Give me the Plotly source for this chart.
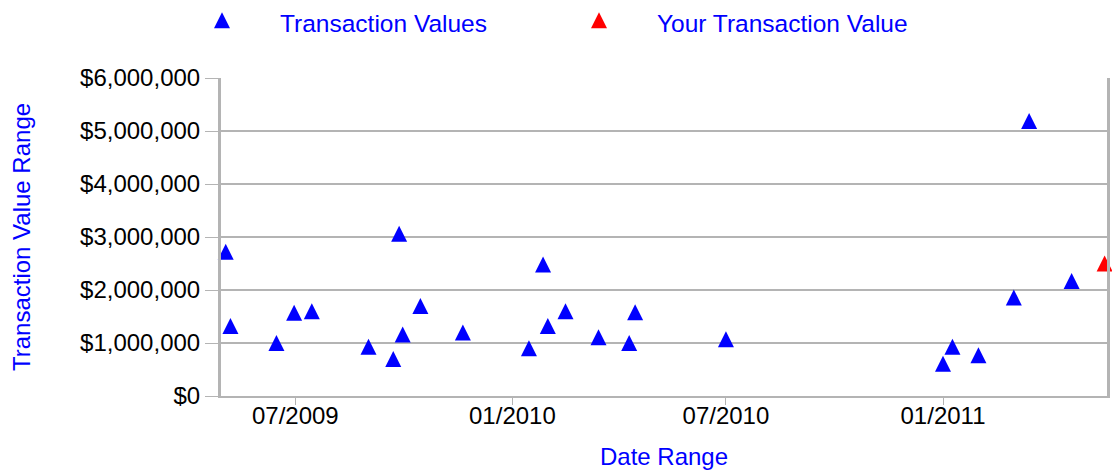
import plotly.graph_objects as go

# ---- data ----
tx_dates = [
    "2009-05-03", "2009-05-07", "2009-06-15", "2009-06-30", "2009-07-15",
    "2009-09-01", "2009-09-22", "2009-09-27", "2009-09-30", "2009-10-15",
    "2009-11-20", "2010-01-15", "2010-01-27", "2010-01-31", "2010-02-15",
    "2010-03-15", "2010-04-10", "2010-04-15", "2010-07-01", "2011-01-01",
    "2011-01-09", "2011-01-31", "2011-03-02", "2011-03-15", "2011-04-20",
]
tx_values = [
    2670000, 1270000, 950000, 1520000, 1550000,
    880000, 650000, 3010000, 1110000, 1650000,
    1150000, 850000, 2430000, 1270000, 1550000,
    1060000, 950000, 1530000, 1020000, 560000,
    880000, 720000, 1810000, 5140000, 2120000,
]
your_date = ["2011-05-18"]
your_value = [2450000]

series_names = ["Transaction Values", "Your Transaction Value"]

x_range = ["2009-04-29", "2011-05-20"]
x_tickvals = ["2009-07-01", "2010-01-01", "2010-07-01", "2011-01-01"]
x_ticktext = ["07/2009", "01/2010", "07/2010", "01/2011"]
y_tickvals = [0, 1000000, 2000000, 3000000, 4000000, 5000000, 6000000]
y_ticktext = ["$0", "$1,000,000", "$2,000,000", "$3,000,000",
              "$4,000,000", "$5,000,000", "$6,000,000"]

FONT = "Liberation Sans, Arial, sans-serif"
BLUE = "#0000FF"
RED = "#FF0000"
GRID = "#B4B4B4"

# page body has an 8px margin, so the figure is sized to fill the rest
W, H = 1112, 462
MSIZE = 16
# equal-sided upward triangle whose centroid sits on the data point
plot_marker = dict(symbol="arrow-down", angle=180, size=MSIZE,
                   standoff=MSIZE * 2 / 3)
legend_marker = dict(symbol="arrow-up", size=MSIZE, standoff=MSIZE * 2 / 3)

fig = go.Figure()
fig.add_trace(go.Scatter(
    x=tx_dates, y=tx_values, mode="markers", name=series_names[0],
    marker=dict(color=BLUE, **plot_marker),
    showlegend=False, cliponaxis=False,
))
fig.add_trace(go.Scatter(
    x=your_date, y=your_value, mode="markers", name=series_names[1],
    marker=dict(color=RED, **plot_marker),
    showlegend=False, cliponaxis=False,
))
# legend entries
fig.add_trace(go.Scatter(
    x=[None], y=[None], mode="markers", name=series_names[0],
    marker=dict(color=BLUE, **legend_marker), legend="legend",
))
fig.add_trace(go.Scatter(
    x=[None], y=[None], mode="markers", name=series_names[1],
    marker=dict(color=RED, **legend_marker), legend="legend2",
))

legend_common = dict(
    orientation="h", xref="container", yref="container",
    xanchor="left", yanchor="middle", y=1 - 15 / H,
    font=dict(family=FONT, size=24.5, color=BLUE),
    bgcolor="rgba(0,0,0,0)", itemwidth=106,
)

fig.update_layout(
    width=W, height=H,
    margin=dict(l=213, r=13, t=70, b=74, autoexpand=False),
    paper_bgcolor="white", plot_bgcolor="white",
    font=dict(family=FONT, size=24, color="black"),
    showlegend=True,
    legend=dict(x=156 / W, **legend_common),
    legend2=dict(x=533 / W, **legend_common),
    xaxis=dict(
        type="date", range=x_range, automargin=False,
        tickvals=x_tickvals, ticktext=x_ticktext,
        showgrid=False, zeroline=False,
        showline=True, linecolor=GRID, linewidth=2,
        ticks="outside", ticklen=7, tickwidth=1, tickcolor=GRID,
        ticklabelstandoff=-10,
        tickfont=dict(family=FONT, size=24, color="black"),
        title=dict(text="Date Range", standoff=22,
                   font=dict(family=FONT, size=24, color=BLUE)),
    ),
    yaxis=dict(
        range=[0, 6000000], automargin=False,
        tickvals=y_tickvals, ticktext=y_ticktext,
        showgrid=True, gridcolor=GRID, gridwidth=2,
        zeroline=False,
        showline=True, linecolor=GRID, linewidth=3, mirror=True,
        ticks="outside", ticklen=13, tickwidth=1, tickcolor=GRID,
        tickfont=dict(family=FONT, size=24, color="black"),
        title=dict(text="Transaction Value Range", standoff=50,
                   font=dict(family=FONT, size=24, color=BLUE)),
    ),
)

fig.write_html("out.html")
